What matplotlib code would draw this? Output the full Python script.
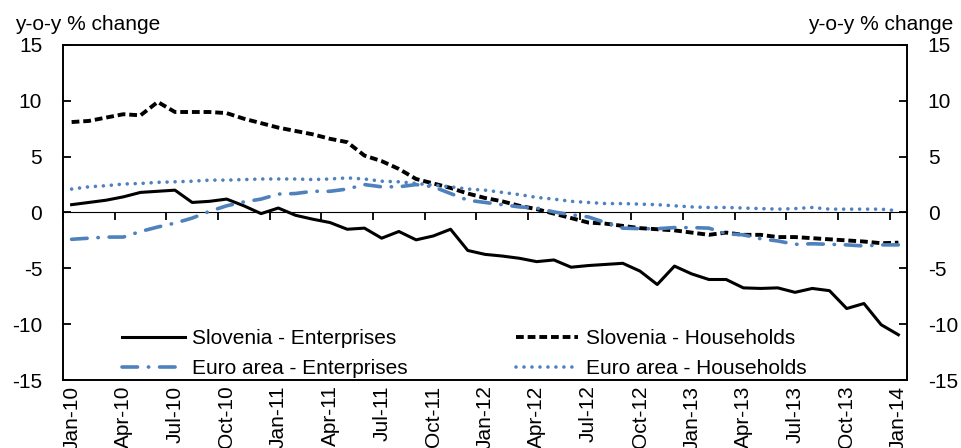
import numpy as np
import matplotlib
matplotlib.use("Agg")
import matplotlib.pyplot as plt

plt.rcParams['font.family'] = ['Liberation Sans Narrow', 'Liberation Sans', 'DejaVu Sans']

# monthly data, Jan-10 .. Jan-14 (49 months)
slo_enterprises = [0.7, 0.9, 1.1, 1.4, 1.8, 1.9, 2.0, 0.9, 1.0, 1.2, 0.6, -0.1, 0.4,
                   -0.25, -0.6, -0.9, -1.5, -1.4, -2.3, -1.7, -2.45, -2.1, -1.5, -3.4,
                   -3.75, -3.9, -4.1, -4.4, -4.25, -4.9, -4.75, -4.65, -4.55, -5.25, -6.45, -4.8,
                   -5.5, -6.0, -6.0, -6.75, -6.8, -6.75, -7.15, -6.8, -7.0, -8.6, -8.15, -10.05,
                   -10.95]
slo_households = [8.1, 8.2, 8.5, 8.8, 8.7, 9.9, 9.0, 9.0, 9.0, 8.9, 8.4, 8.0, 7.6,
                  7.3, 7.0, 6.6, 6.3, 5.1, 4.6, 3.9, 3.0, 2.6, 2.2, 1.7,
                  1.3, 1.0, 0.6, 0.3, -0.1, -0.5, -0.9, -1.0, -1.2, -1.4, -1.5, -1.6,
                  -1.8, -2.0, -1.8, -2.0, -2.0, -2.2, -2.2, -2.3, -2.4, -2.5, -2.6, -2.75,
                  -2.7]
ea_enterprises = [-2.4, -2.3, -2.2, -2.2, -1.7, -1.3, -0.95, -0.5, 0.1, 0.6, 0.95, 1.2, 1.65,
                  1.7, 1.9, 1.9, 2.1, 2.5, 2.3, 2.3, 2.5, 2.3, 1.7, 1.1,
                  0.9, 0.7, 0.5, 0.4, 0.05, -0.2, -0.4, -0.9, -1.4, -1.45, -1.45, -1.35,
                  -1.35, -1.4, -1.9, -2.0, -2.35, -2.55, -2.85, -2.8, -2.85, -2.9, -3.0, -2.9,
                  -2.9]
ea_households = [2.1, 2.3, 2.4, 2.55, 2.6, 2.7, 2.75, 2.8, 2.9, 2.9, 2.95, 3.0, 3.0,
                 3.0, 2.95, 3.0, 3.1, 3.0, 2.8, 2.75, 2.6, 2.45, 2.3, 2.1,
                 2.0, 1.8, 1.6, 1.35, 1.2, 1.0, 0.9, 0.8, 0.8, 0.75, 0.7, 0.6,
                 0.5, 0.45, 0.45, 0.4, 0.35, 0.3, 0.35, 0.45, 0.3, 0.3, 0.3, 0.3,
                 0.15]

tick_labels = ['Jan-10', 'Apr-10', 'Jul-10', 'Oct-10',
               'Jan-11', 'Apr-11', 'Jul-11', 'Oct-11',
               'Jan-12', 'Apr-12', 'Jul-12', 'Oct-12',
               'Jan-13', 'Apr-13', 'Jul-13', 'Oct-13', 'Jan-14']

blue = '#4F81BD'
fs = 15
x = np.arange(len(slo_enterprises))

fig = plt.figure(figsize=(9.61, 4.48), dpi=100)
ax = fig.add_axes([63/961, 1-380/448, 844/961, 335/448])

ax.plot(x, slo_enterprises, color='black', lw=2.2, label='Slovenia - Enterprises')
ax.plot(x, slo_households, color='black', lw=2.8, ls=(0, (2.0, 1.0)),
        label='Slovenia - Households')
ax.plot(x, ea_enterprises, color=blue, lw=2.6, ls=(0, (4.3, 3.0, 0.1, 3.0)),
        dash_capstyle='round', label='Euro area - Enterprises')
ax.plot(x, ea_households, color=blue, lw=2.6, ls=(0, (0.01, 2.2)),
        dash_capstyle='round', label='Euro area - Households')

ax.set_xlim(-0.5, len(x) - 0.5)
ax.set_ylim(-15, 15)
ax.set_yticks([-15, -10, -5, 0, 5, 10, 15])
ax.set_yticklabels(['-15', '-10', '-5', '0', '5', '10', '15'])
ax.tick_params(axis='y', direction='in', length=6, width=1.3, left=True, right=True,
               labelleft=True, labelright=True, labelsize=fs, pad=15)

ax.set_xticks(x[::3])
ax.set_xticklabels(tick_labels, rotation=90, va='top', ha='center')
ax.tick_params(axis='x', length=0, labelsize=fs, pad=4)

for s in ax.spines.values():
    s.set_linewidth(1.4)

# zero line with tick marks at quarter boundaries
zero_ax = ax.secondary_xaxis(0.5)
zero_ax.set_xticks(np.arange(-0.5, len(x), 3))
zero_ax.set_xticklabels([])
zero_ax.tick_params(direction='in', length=6, width=1.3)
zero_ax.spines['bottom'].set_linewidth(1.4)

fig.text(15/961, 1-30/448, 'y-o-y % change', fontsize=fs, ha='left', va='baseline')
fig.text(953/961, 1-30/448, 'y-o-y % change', fontsize=fs, ha='right', va='baseline')

handles, labels = ax.get_legend_handles_labels()
order = [0, 2, 1, 3]
ax.legend([handles[i] for i in order], [labels[i] for i in order],
          ncol=2, frameon=False, fontsize=fs, loc='lower left',
          bbox_to_anchor=(0.07, 0.005), borderpad=0, borderaxespad=0,
          handlelength=3.0, handletextpad=0.35, columnspacing=5.2, labelspacing=0.55)

fig.savefig('out.png', dpi=100)
